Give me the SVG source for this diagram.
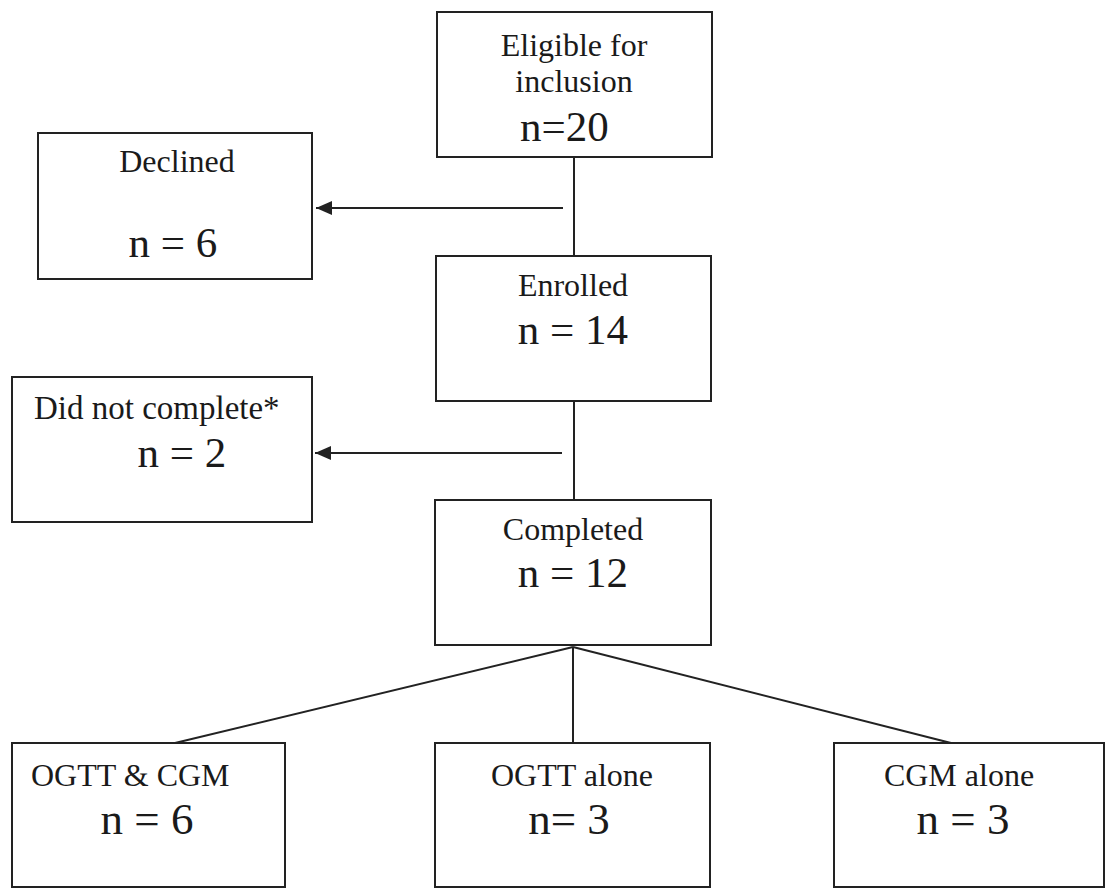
<svg xmlns="http://www.w3.org/2000/svg" width="1108" height="890" viewBox="0 0 1108 890">
<style>
.box{fill:#fff;stroke:#222;stroke-width:2}
.ln{stroke:#222;stroke-width:2;fill:none}
.t{font-family:"Liberation Serif","Times New Roman",serif;fill:#1a1a1a;font-size:32px}
.n{font-family:"Liberation Serif","Times New Roman",serif;fill:#1a1a1a;font-size:43px}
.b{font-size:45px}
.c{text-anchor:middle}
</style>
<defs>
<marker id="arr" markerWidth="16" markerHeight="14" refX="16" refY="7" orient="auto" markerUnits="userSpaceOnUse">
<path d="M0,0 L16,7 L0,14 Z" fill="#222"/>
</marker>
</defs>
<rect width="1108" height="890" fill="#fff"/>
<g id="connectors">
<line class="ln" x1="574" y1="157" x2="574" y2="256"/>
<line class="ln" x1="563" y1="208" x2="316" y2="208" marker-end="url(#arr)"/>
<line class="ln" x1="574" y1="401" x2="574" y2="500"/>
<line class="ln" x1="562" y1="453" x2="315" y2="453" marker-end="url(#arr)"/>
<line class="ln" x1="573" y1="647" x2="175" y2="743"/>
<line class="ln" x1="573" y1="647" x2="573" y2="743"/>
<line class="ln" x1="573" y1="647" x2="951" y2="743"/>
</g>
<g id="eligible">
<rect class="box" x="437" y="12" width="275" height="145"/>
<text class="t c" x="574" y="56">Eligible for</text>
<text class="t c" x="574" y="92">inclusion</text>
<text class="n" x="520" y="141">n=20</text>
</g>
<g id="declined">
<rect class="box" x="38" y="133" width="274" height="146"/>
<text class="t c" x="177" y="172">Declined</text>
<text class="n c" x="173" y="257">n = 6</text>
</g>
<g id="enrolled">
<rect class="box" x="436" y="256" width="275" height="145"/>
<text class="t c" x="573" y="296">Enrolled</text>
<text class="n c" x="573" y="344">n = 14</text>
</g>
<g id="didnotcomplete">
<rect class="box" x="12" y="377" width="300" height="145"/>
<text class="t" x="34" y="419" style="font-size:33px">Did not complete*</text>
<text class="n c" x="182" y="467">n = 2</text>
</g>
<g id="completed">
<rect class="box" x="435" y="500" width="276" height="145"/>
<text class="t c" x="573" y="540">Completed</text>
<text class="n c" x="573" y="587">n = 12</text>
</g>
<g id="ogttcgm">
<rect class="box" x="12" y="743" width="273" height="144"/>
<text class="t" x="31" y="786">OGTT &amp; CGM</text>
<text class="n b c" x="147" y="834">n = 6</text>
</g>
<g id="ogttalone">
<rect class="box" x="435" y="743" width="275" height="144"/>
<text class="t c" x="572" y="786">OGTT alone</text>
<text class="n b c" x="569" y="834">n= 3</text>
</g>
<g id="cgmalone">
<rect class="box" x="834" y="743" width="270" height="144"/>
<text class="t c" x="959" y="786">CGM alone</text>
<text class="n b c" x="963" y="834">n = 3</text>
</g>
</svg>
